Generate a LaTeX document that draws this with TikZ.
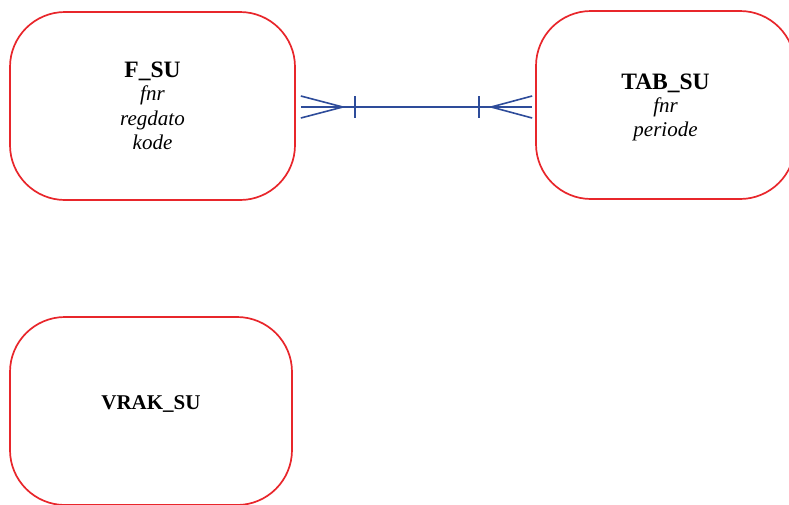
\documentclass[tikz,border=0pt]{standalone}
\usepackage{fontspec}
\setmainfont{Liberation Serif}
\usepackage{xcolor}
\usetikzlibrary{arrows.meta,positioning,calc}

\definecolor{entred}{RGB}{232,38,43}
\definecolor{relblue}{RGB}{46,76,154}

\tikzset{
	entity/.style={draw=entred, line width=1.7pt, rounded corners=55pt,
		align=center, inner sep=0pt, font=\fontsize{21}{24.5}\selectfont},
	rel/.style={draw=relblue, line width=1.6pt},
}
\newcommand{\enttitle}[1]{{\fontsize{23.5}{24}\selectfont\bfseries #1}}
\newcommand{\entattr}[1]{{\itshape #1}}

\begin{document}
\begin{tikzpicture}[x=1pt,y=-1pt]
	\useasboundingbox (0,0) rectangle (789,504);
	
	% Entity 1: F_SU
	\node[entity, minimum width=285pt, minimum height=188pt] (fsu) at (152.5,106)
		{\enttitle{F\_SU}\\[-1.5pt] \entattr{fnr}\\ \entattr{regdato}\\ \entattr{kode}};
	
	% Entity 2: TAB_SU
	\node[entity, minimum width=259pt, minimum height=188pt, text depth=0pt] (tabsu) at (665.5,105)
		{\enttitle{TAB\_SU}\\[-1.5pt] \entattr{fnr}\\ \entattr{periode}};
	
	% Entity 3: VRAK_SU
	\node[entity, minimum width=282pt, minimum height=188pt, text depth=16pt] (vraksu) at (151,411)
		{\fontsize{21}{24}\selectfont\bfseries VRAK\_SU};
	
	% relation F_SU -- TAB_SU
	\coordinate (fend) at ($(fsu.east)+(5,1)$);
	\coordinate (tend) at ($(tabsu.west)+(-3,2)$);
	\draw[rel] (fend) -- (tend);
	
	% crow's foot + bar at F_SU
	\draw[rel] ($(fend)+(0,-11)$) -- ($(fend)+(42,0)$) -- ($(fend)+(0,11)$);
	\draw[rel] ($(fend)+(54,-11)$) -- ($(fend)+(54,11)$);
	
	% crow's foot + bar at TAB_SU
	\draw[rel] ($(tend)+(0,-11)$) -- ($(tend)+(-41,0)$) -- ($(tend)+(0,11)$);
	\draw[rel] ($(tend)+(-53,-11)$) -- ($(tend)+(-53,11)$);
\end{tikzpicture}
\end{document}
